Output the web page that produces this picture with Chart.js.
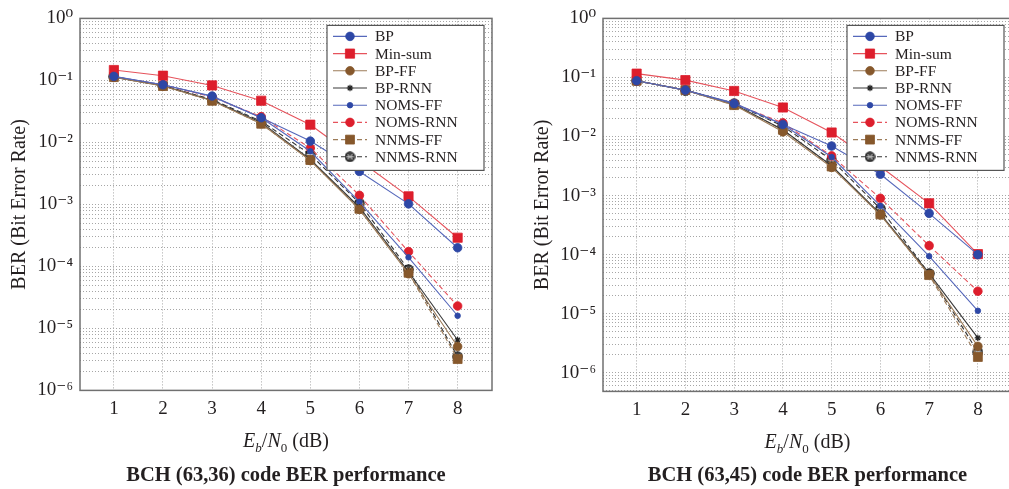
<!DOCTYPE html>
<html>
<head>
<meta charset="utf-8">
<title>BCH code BER performance</title>
<script src="https://cdn.jsdelivr.net/npm/chart.js@4.4.1/dist/chart.umd.min.js"></script>
<style>
html, body { margin:0; padding:0; background:#fff; overflow:hidden; width:1009px; height:489px; }
canvas { position:absolute; top:0; }
#ber36 { left:0; }
#ber45 { left:523px; }
</style>
</head>
<body>
<canvas id="ber36" width="572" height="489"></canvas>
<canvas id="ber45" width="569" height="489"></canvas>
<script>

var EBN0 = [1, 2, 3, 4, 5, 6, 7, 8];
var DECODERS = ['BP', 'Min-sum', 'BP-FF', 'BP-RNN', 'NOMS-FF', 'NOMS-RNN', 'NNMS-FF', 'NNMS-RNN'];

// BCH (63,36)
var bp36      = [0.116, 0.085, 0.056, 0.025, 0.0105, 0.0034, 0.00102, 0.0002];
var minsum36  = [0.147, 0.119, 0.083, 0.047, 0.0193, 0.0051, 0.00135, 0.00029];
var bpff36    = [0.113, 0.081, 0.047, 0.020, 0.0051, 0.00083, 7.6e-5, 5.1e-6];
var bprnn36   = [0.113, 0.082, 0.048, 0.021, 0.0053, 0.0009, 8.2e-5, 6.5e-6];
var nomsff36  = [0.115, 0.085, 0.055, 0.025, 0.0072, 0.0011, 1.4e-4, 1.6e-5];
var nomsrnn36 = [0.115, 0.085, 0.054, 0.026, 0.0081, 0.0014, 1.73e-4, 2.3e-5];
var nnmsff36  = [0.113, 0.081, 0.047, 0.020, 0.0052, 0.00085, 7.9e-5, 3.2e-6];
var nnmsrnn36 = [0.115, 0.083, 0.049, 0.022, 0.0064, 0.00105, 8.9e-5, 3.5e-6];

// BCH (63,45)
var bp45      = [0.088, 0.061, 0.036, 0.016, 0.0069, 0.0023, 0.0005, 1.0e-4];
var minsum45  = [0.116, 0.090, 0.059, 0.031, 0.0117, 0.0031, 0.00074, 1.02e-4];
var bpff45    = [0.088, 0.061, 0.034, 0.012, 0.0030, 0.00047, 4.6e-5, 2.8e-6];
var bprnn45   = [0.088, 0.061, 0.035, 0.013, 0.0032, 0.00049, 4.8e-5, 3.9e-6];
var nomsff45  = [0.088, 0.061, 0.037, 0.016, 0.0045, 0.00067, 9.4e-5, 1.12e-5];
var nomsrnn45 = [0.088, 0.061, 0.036, 0.017, 0.0047, 0.0009, 1.42e-4, 2.4e-5];
var nnmsff45  = [0.088, 0.061, 0.034, 0.013, 0.0031, 0.00048, 4.5e-5, 1.85e-6];
var nnmsrnn45 = [0.088, 0.061, 0.036, 0.015, 0.0040, 0.0006, 4.8e-5, 2.24e-6];

var SERIF = "'Liberation Serif', 'DejaVu Serif', serif";
var INK = '#231f20';

Chart.defaults.font.family = SERIF;
Chart.defaults.color = INK;

// dark circle with a crossed pattern for NNMS-RNN
var hatch = (function(){
	var c = document.createElement('canvas');
	c.width = 11; c.height = 11;
	var g = c.getContext('2d');
	g.beginPath(); g.arc(5.5, 5.5, 4.6, 0, Math.PI * 2);
	g.fillStyle = '#4a4a4a'; g.fill();
	g.save(); g.clip();
	g.strokeStyle = '#c8c8c8'; g.lineWidth = 1;
	g.beginPath();
	g.moveTo(1, 1); g.lineTo(10, 10);
	g.moveTo(10, 1); g.lineTo(1, 10);
	g.moveTo(1, 5.5); g.lineTo(10, 5.5);
	g.stroke();
	g.restore();
	g.beginPath(); g.arc(5.5, 5.5, 4.6, 0, Math.PI * 2);
	g.strokeStyle = '#111'; g.lineWidth = 1.2; g.stroke();
	return c;
})();

var STYLE = {
	'BP':       { color: '#2d47a6', line: '#5668bb', marker: 'circle', r: 4.3, dash: [] },
	'Min-sum':  { color: '#dd1e2c', line: '#e6535c', marker: 'rect',   r: 6.5, dash: [] },
	'BP-FF':    { color: '#86582c', line: '#9c7b58', marker: 'circle', r: 4.3, dash: [] },
	'BP-RNN':   { color: '#222222', line: '#3a3a3a', marker: 'star',   r: 3.2, dash: [] },
	'NOMS-FF':  { color: '#2d47a6', line: '#5668bb', marker: 'circle', r: 2.8, dash: [] },
	'NOMS-RNN': { color: '#dd1e2c', line: '#e6535c', marker: 'circle', r: 4.3, dash: [5, 3] },
	'NNMS-FF':  { color: '#86582c', line: '#9c7b58', marker: 'rect',   r: 6.3, dash: [5, 3] },
	'NNMS-RNN': { color: '#222222', line: '#333333', marker: hatch,    r: 5,   dash: [5, 3] }
};

var SUP = { '0':'\u2070', '1':'\u00b9', '2':'\u00b2', '3':'\u00b3', '4':'\u2074', '5':'\u2075', '6':'\u2076', '7':'\u2077', '8':'\u2078', '9':'\u2079', '-':'\u207b' };

function powerLabel(v){
	var e = Math.log10(v);
	if (Math.abs(e - Math.round(e)) > 1e-6) return '';
	return '10' + String(Math.round(e)).split('').map(function(ch){ return SUP[ch]; }).join('');
}

function makeDatasets(series){
	return DECODERS.map(function(name, i){
		var s = STYLE[name];
		return {
			label: name,
			data: EBN0.map(function(x, k){ return { x: x, y: series[i][k] }; }),
			borderColor: s.line,
			borderWidth: 1.1,
			borderDash: s.dash,
			backgroundColor: s.color,
			pointStyle: s.marker,
			pointRadius: s.r,
			pointBackgroundColor: s.color,
			pointBorderColor: s.color,
			pointBorderWidth: s.marker === 'star' ? 1.2 : 0.8,
			tension: 0,
			fill: false
		};
	});
}

// plot frame, boxed legend in the top right corner and the Eb/N0 axis label
var decorations = {
	id: 'decorations',
	afterDatasetsDraw: function(chart){
		var ctx = chart.ctx, a = chart.chartArea;
		ctx.save();
		ctx.strokeStyle = '#707070';
		ctx.lineWidth = 1.5;
		ctx.strokeRect(a.left, a.top, a.right - a.left, a.bottom - a.top);

		var w = 157, h = 145;
		var bx = a.right - 8 - w, by = a.top + 7;
		ctx.fillStyle = '#fff';
		ctx.fillRect(bx, by, w, h);
		ctx.strokeStyle = '#555';
		ctx.lineWidth = 1.2;
		ctx.strokeRect(bx, by, w, h);

		ctx.font = '15.5px ' + SERIF;
		ctx.textBaseline = 'middle';
		chart.data.datasets.forEach(function(ds, i){
			var y = by + 11 + i * 17.2;
			ctx.strokeStyle = ds.borderColor;
			ctx.lineWidth = ds.borderWidth;
			ctx.setLineDash(ds.borderDash);
			ctx.beginPath();
			ctx.moveTo(bx + 6, y);
			ctx.lineTo(bx + 40, y);
			ctx.stroke();
			ctx.setLineDash([]);
			ctx.fillStyle = ds.pointBackgroundColor;
			ctx.strokeStyle = ds.pointBorderColor;
			ctx.lineWidth = ds.pointBorderWidth;
			Chart.helpers.drawPoint(ctx, {
				pointStyle: ds.pointStyle,
				radius: ds.pointRadius,
				rotation: 0,
				borderWidth: ds.pointBorderWidth
			}, bx + 23, y);
			ctx.fillStyle = INK;
			ctx.fillText(ds.label, bx + 48, y + 1);
		});
		ctx.restore();
	},
	afterDraw: function(chart){
		var ctx = chart.ctx, a = chart.chartArea;
		var parts = [
			{ t: 'E',     f: 'italic 20px ', dy: 0 },
			{ t: 'b',     f: 'italic 13px ', dy: 5 },
			{ t: '/',     f: '20px ',        dy: 0 },
			{ t: 'N',     f: 'italic 20px ', dy: 0 },
			{ t: '0',     f: '13px ',        dy: 5 },
			{ t: ' (dB)', f: '20px ',        dy: 0 }
		];
		ctx.save();
		ctx.fillStyle = INK;
		ctx.textBaseline = 'alphabetic';
		var total = 0;
		parts.forEach(function(p){ ctx.font = p.f + SERIF; p.w = ctx.measureText(p.t).width; total += p.w; });
		var x = (a.left + a.right) / 2 - total / 2, y = a.bottom + 57;
		parts.forEach(function(p){
			ctx.font = p.f + SERIF;
			ctx.fillText(p.t, x, y + p.dy);
			x += p.w;
		});
		ctx.restore();
	}
};

function logTicks(scale){
	var ticks = [];
	for (var e = -7; e <= 0; e++) {
		for (var m = 1; m <= 9; m++) {
			var v = m * Math.pow(10, e);
			if (v >= scale.min * 0.999 && v <= scale.max * 1.001) ticks.push({ value: v });
		}
	}
	scale.ticks = ticks;
}

// an empty axis on the right as wide as the y axis keeps the bottom title
// centred under the plot
function drawBer(id, title, series, yMin, top, xHeight){
	new Chart(document.getElementById(id), {
		type: 'line',
		data: { datasets: makeDatasets(series) },
		plugins: [decorations],
		options: {
			responsive: false,
			animation: false,
			devicePixelRatio: 1,
			layout: { padding: { top: top, right: 0, left: 0, bottom: 1 } },
			plugins: {
				legend: { display: false },
				tooltip: { enabled: false },
				title: {
					display: true,
					position: 'bottom',
					text: title,
					color: INK,
					font: { size: 20.5, weight: 'bold', family: SERIF },
					padding: 0
				}
			},
			scales: {
				x: {
					type: 'linear',
					min: 0.31,
					max: 8.7,
					afterBuildTicks: function(scale){ scale.ticks = EBN0.map(function(v){ return { value: v }; }); },
					afterFit: function(scale){ scale.height = xHeight; },
					ticks: { color: INK, font: { size: 19 }, padding: 7 },
					grid: { color: '#a6a6a6', lineWidth: 1, drawTicks: false },
					border: { display: false, dash: [1, 2] }
				},
				y: {
					type: 'logarithmic',
					min: yMin,
					max: 1,
					afterBuildTicks: logTicks,
					afterFit: function(scale){ scale.width = 80; },
					ticks: { color: INK, font: { size: 19 }, padding: 7, autoSkip: false, callback: powerLabel },
					grid: { color: '#a6a6a6', lineWidth: 1, drawTicks: false },
					border: { display: false, dash: [1, 2] },
					title: { display: true, text: 'BER (Bit Error Rate)', color: INK, font: { size: 20 }, padding: { top: 8, bottom: 0 } }
				},
				spacer: {
					type: 'linear',
					position: 'right',
					display: true,
					afterFit: function(scale){ scale.width = 80; },
					ticks: { display: false },
					grid: { display: false, drawTicks: false },
					border: { display: false }
				}
			}
		}
	});
}

drawBer('ber36', 'BCH (63,36) code BER performance',
	[bp36, minsum36, bpff36, bprnn36, nomsff36, nomsrnn36, nnmsff36, nnmsrnn36],
	1e-6, 13, 73);

drawBer('ber45', 'BCH (63,45) code BER performance',
	[bp45, minsum45, bpff45, bprnn45, nomsff45, nomsrnn45, nnmsff45, nnmsrnn45],
	4.83e-7, 12, 72);

</script>
</body>
</html>
